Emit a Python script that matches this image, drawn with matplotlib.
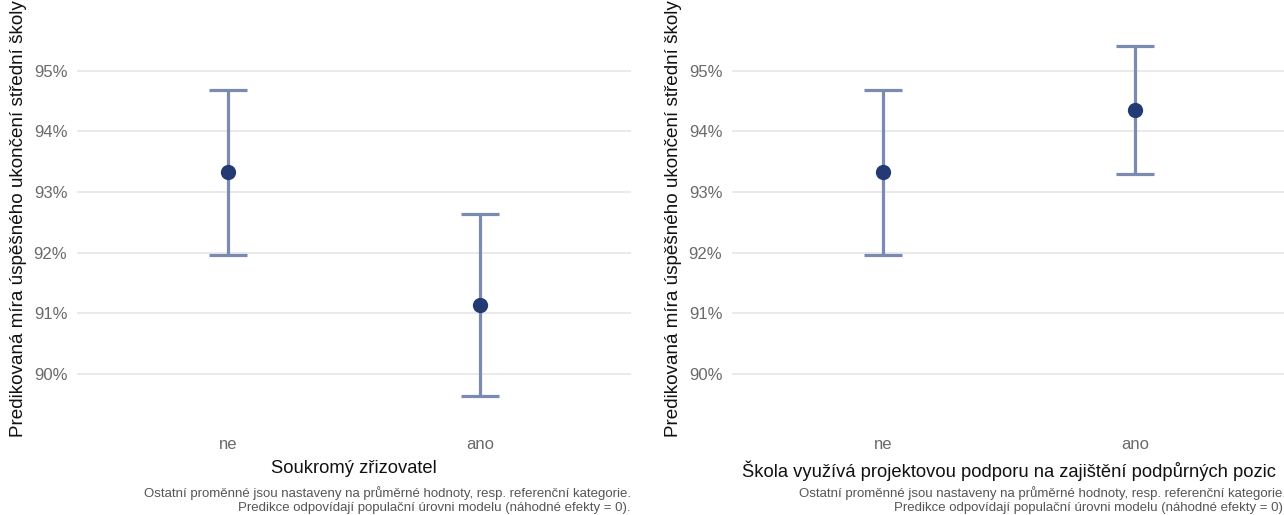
import matplotlib
matplotlib.use("Agg")
import matplotlib.pyplot as plt

plt.rcParams['font.family'] = ['Liberation Sans', 'DejaVu Sans']

# Predicted success rates (%) with confidence intervals
categories = ["ne", "ano"]

private_est = [93.33, 91.13]
private_low = [91.96, 89.63]
private_high = [94.69, 92.64]

project_est = [93.33, 94.35]
project_low = [91.96, 93.29]
project_high = [94.69, 95.41]

y_ticks = [90, 91, 92, 93, 94, 95]
y_tick_labels = ["90%", "91%", "92%", "93%", "94%", "95%"]

y_label = "Predikovaná míra úspěšného ukončení střední školy"
x_titles = ["Soukromý zřizovatel",
            "Škola využívá projektovou podporu na zajištění podpůrných pozic"]
caption = ("Ostatní proměnné jsou nastaveny na průměrné hodnoty, resp. referenční kategorie.\n"
           "Predikce odpovídají populační úrovni modelu (náhodné efekty = 0).")

W, H = 1284, 515
fig = plt.figure(figsize=(W / 100, H / 100), dpi=100)

ylim = (89.1, 96.2)
px_per_unit = 60.67
y95_px = 70.7
bottom_px = y95_px + (95 - ylim[0]) * px_per_unit
top_px = y95_px - (ylim[1] - 95) * px_per_unit

panel_left_px = [77, 732]
panel_w_px = 554

err_color = "#7a8ab1"
pt_color = "#233a75"
grid_color = "#e8e8e8"
tick_color = "#6a6a6a"

panels = [(private_est, private_low, private_high),
          (project_est, project_low, project_high)]
ylabel_x_px = [18.5, 673]

for i, (est, low, high) in enumerate(panels):
    ax = fig.add_axes([panel_left_px[i] / W, 1 - bottom_px / H,
                       panel_w_px / W, (bottom_px - top_px) / H])
    xs = list(range(len(categories)))
    for x, e, lo, hi in zip(xs, est, low, high):
        ax.vlines(x, lo, hi, color=err_color, lw=2.3, zorder=2)
        ax.hlines([lo, hi], x - 0.074, x + 0.074, color=err_color, lw=2.3, zorder=2)
    ax.plot(xs, est, 'o', color=pt_color, markersize=11, zorder=3,
            markeredgewidth=0)

    ax.set_xlim(-0.6, 1.6)
    ax.set_ylim(*ylim)
    ax.set_yticks(y_ticks)
    ax.set_yticklabels(y_tick_labels)
    ax.set_xticks(xs)
    ax.set_xticklabels(categories)
    ax.tick_params(axis='both', length=0, labelsize=12, labelcolor=tick_color)
    ax.tick_params(axis='y', pad=7)
    ax.tick_params(axis='x', pad=6)
    ax.grid(axis='y', color=grid_color, lw=1.3)
    ax.set_axisbelow(True)
    for s in ax.spines.values():
        s.set_visible(False)

    ax.set_xlabel(x_titles[i], fontsize=13.2, color="#111111", labelpad=6)

    fig.text(ylabel_x_px[i] / W, 1 - 437 / H, y_label, rotation=90,
             rotation_mode='anchor', ha='left', va='center',
             fontsize=13.6, color="#111111")

    right_px = panel_left_px[i] + panel_w_px
    fig.text(right_px / W, 1 - 486 / H, caption, ha='right', va='top',
             fontsize=9.5, color="#555555", linespacing=1.25,
             multialignment='right')

fig.savefig("out.png", dpi=100)
